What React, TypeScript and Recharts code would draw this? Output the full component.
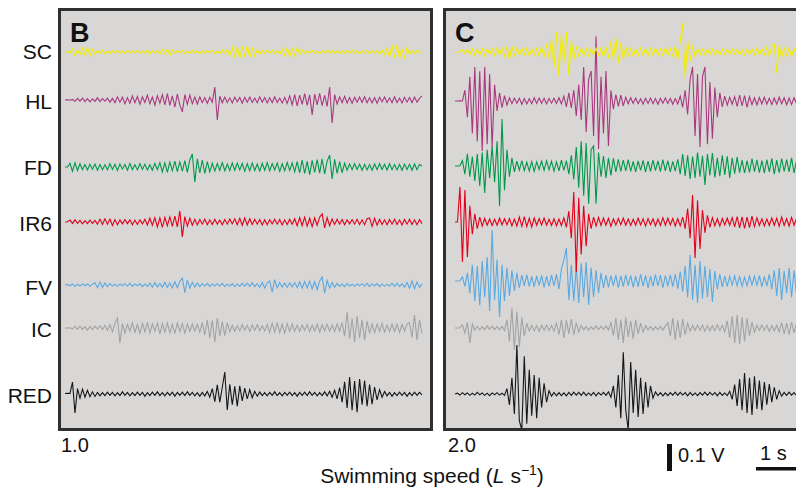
import React from 'react';
import { LineChart, Line, XAxis, YAxis } from 'recharts';

// EMG channels, top to bottom
const muscles = ['SC', 'HL', 'FD', 'IR6', 'FV', 'IC', 'RED'];
const speedLabels = ['1.0', '2.0'];
const panelLetters = ['B', 'C'];

// ---- panel B, 1.0 L/s (values in mV, one sample every 62.5 ms) ----
const scB = [
  0, 2, -4, 12, -14, 8, -10, 15, -12, 18,
  -16, 10, -8, 6, -5, 7, -6, 4, -7, 5,
  -4, 6, -5, 3, -6, 7, -4, 5, -3, 6,
  -5, 4, -6, 8, -7, 5, -4, 6, -8, 9,
  -6, 11, -14, 8, -5, 6, -4, 5, -6, 4,
  -5, 7, -4, 5, -6, 4, -5, 6, -3, 5,
  -6, 4, -7, 8, -5, 10, -14, 18, -22, 20,
  -25, 22, -18, 24, -20, 14, -16, 10, -8, 7,
  -5, 6, -4, 7, -6, 5, -8, 10, -14, 16,
  -18, 12, -15, 17, -10, 8, -6, 5, -4, 6,
  -5, 4, -6, 5, -3, 6, -5, 7, -4, 5,
  -6, 4, -5, 6, -4, 7, -5, 4, -6, 5,
  -4, 6, -7, 5, -4, 6, -8, 7, -9, 14,
  -18, 26, -22, 28, -24, 12, -26, 18, -10, 6,
  -5, 6, -4, 3,
];
const hlB = [
  0, 1, -1, 2, -5, 6, -4, 7, -6, 5,
  -7, 4, -5, 8, -6, 5, -4, 7, -8, 6,
  -10, 12, -8, 11, -14, 9, -12, 15, -10, 13,
  -16, 12, -9, 18, -14, 11, -19, 16, -12, 20,
  -18, 24, -20, 15, -26, 22, -18, -44, 20, -16,
  18, -14, 11, -15, 12, -10, 9, -12, 10, -8,
  48, -74, 14, -10, 11, -9, 8, -11, 10, -7,
  9, -12, 10, -8, 11, -9, 7, -10, 12, -8,
  9, -11, 8, -10, 12, -9, 7, -11, 10, -13,
  15, -18, 20, -22, 18, -16, 24, -20, 19, -55,
  22, -18, 25, -21, 17, -24, 48, -85, 20, -15,
  12, -10, 14, -11, 9, -12, 10, -8, 11, -9,
  12, -10, 8, -11, 9, -12, 10, -7, 11, -9,
  8, -10, 12, -9, 7, -11, 10, -8, 9, -10,
  11, -8, 6, 15,
];
const fdB = [
  0, 0, 14, -16, 15, -13, 12, -10, 9, -11,
  10, -8, 11, -12, 9, -10, 8, -11, 12, -9,
  10, -13, 11, -8, 9, -12, 13, -10, 8, -11,
  12, -9, 10, -11, 8, -12, 14, -10, 16, -18,
  15, -20, 18, -14, 22, -17, 19, -15, 24, -20,
  26, 48, -55, 30, -22, 26, -24, 20, -18, 14,
  -15, 13, -12, 16, -14, 11, -13, 15, -12, 14,
  -11, 13, -16, 12, -14, 15, -13, 11, -15, 14,
  -12, 16, -14, 13, -11, 15, -16, 12, -14, 17,
  -13, 15, -18, 20, -22, 26, -24, 21, -28, 25,
  -20, 27, -23, 30, -26, 22, 44, -44, 28, -24,
  20, -22, 14, -12, 11, -10, 12, -9, 11, -12,
  10, -11, 9, -12, 11, -10, 12, -9, 10, -11,
  12, -10, 9, -11, 10, -12, 11, -9, 10, -12,
  11, -10, 9, 4,
];
const ir6B = [
  0, 1, 7, -6, 8, -5, 6, -7, 5, -6,
  7, -5, 6, -8, 10, -9, 12, -8, 11, -13,
  9, -10, 8, -7, 9, -6, 8, -10, 7, -9,
  8, -7, 10, -11, 14, -12, 16, -18, 15, -20,
  17, -14, 19, -16, 22, -18, 41, -55, 20, -15,
  14, -12, 10, -11, 9, -8, 11, -10, 8, -9,
  10, -8, 7, -10, 9, -8, 11, -7, 12, -10,
  14, -12, 15, -11, 12, -9, 10, -8, 9, -11,
  8, -10, 9, -7, 10, -8, 9, -11, 8, -9,
  10, -8, 12, -14, 16, -13, 18, -15, 14, -17,
  15, -12, 18, 30, -22, 16, -14, 11, -9, 10,
  -8, 9, -10, 8, -7, 9, -8, 10, -9, 8,
  -10, 12, 15, -16, 14, -12, 10, -9, 8, -10,
  9, -8, 10, -9, 8, -11, 9, -8, 10, -9,
  8, -10, 9, -6,
];
const fvB = [
  0, 2, -3, 4, -5, 3, -4, 5, -3, 4,
  -5, 3, 8, -10, 11, -9, 7, -6, 5, -4,
  3, -5, 4, -3, 5, -4, 6, -5, 4, -3,
  5, -6, 4, -5, 7, -8, 9, -7, 6, -8,
  10, -9, 8, -11, 12, -10, 14, 26, -28, 18,
  -12, 10, -8, 7, -6, 5, -4, 6, -5, 4,
  -3, 5, -4, 6, -5, 3, -4, 5, -6, 4,
  -5, 6, -4, 7, -5, 8, -6, 5, -9, 10,
  -12, 8, 14, -26, 20, -10, 9, -8, 7, -9,
  8, -7, 9, -10, 11, -12, 13, -11, 14, -15,
  12, -16, 14, 30, -30, 16, -12, 9, -8, 6,
  -5, 4, -6, 5, -4, 3, -5, 4, -3, 5,
  -4, 6, -5, 4, -3, 5, -6, 4, -5, 3,
  -4, 6, -5, 7, -6, 5, -8, 10, -12, 15,
  -14, 11, -9, 4,
];
const icB = [
  0, 0, 1, -3, 6, -5, 7, -6, 5, -8,
  6, -5, 7, -4, 8, -6, 10, -9, 12, -14,
  18, 37, -55, 16, -18, 14, -12, 19, -16, 13,
  -20, 17, -14, 21, -18, 15, -12, 18, -22, 16,
  -15, 19, -17, 14, -20, 18, -13, 16, -19, 15,
  -12, 14, -11, 13, -15, 20, -26, 30, -37, 28,
  -52, 37, -30, 24, -28, 20, -14, 10, -12, 9,
  -11, 12, -8, 10, -13, 11, -9, 12, -10, 8,
  -11, 13, -16, 18, -15, 20, -17, 14, -19, 16,
  -13, 15, -12, 10, -13, 11, -9, 12, -14, 10,
  -11, 13, -15, 12, -10, 14, -12, 11, -13, 15,
  -12, 20, -30, 59, -40, 35, -52, 44, -38, 30,
  -45, 26, -20, 15, -17, 14, -12, 16, -15, 11,
  -13, 15, -12, 14, -16, 13, -11, 14, 20, -35,
  48, -44, 30, -20,
];
const redB = [
  2, 3, 2, 44, -70, 20, -15, 18, -12, 14,
  -10, 8, -9, 6, -7, 5, -6, 7, -5, 6,
  -7, 5, -6, 8, -5, 6, -7, 5, -6, 7,
  -5, 6, -8, 5, -6, 7, -5, 8, -6, 5,
  -7, 6, -5, 7, -8, 6, -5, 7, -6, 8,
  -5, 6, -7, 5, -8, 6, -7, 9, -12, 20,
  -28, 34, -30, 25, 81, -59, 36, -40, 28, -45,
  30, -26, 22, -18, 16, -14, 10, -8, 7, -6,
  5, -7, 6, -5, 8, -6, 5, -7, 6, -5,
  7, -6, 5, -8, 6, -5, 7, -6, 8, -5,
  6, -7, 5, -6, 8, -7, 10, -12, 14, -18,
  24, -30, 45, -52, 63, -60, 48, -67, 55, -40,
  50, -45, 35, -38, 26, -22, 16, -12, 9, -7,
  6, -8, 5, -6, 7, -5, 6, -8, 5, -6,
  7, -5, 6, -3,
];

// ---- panel C, 2.0 L/s ----
const scC = [
  0, 0, 1, 8, -6, 10, -9, 12, -14, 11,
  -10, 13, -15, 12, -9, 11, -13, 16, -12, 14,
  -16, 22, -28, 24, -18, 14, -12, 15, -11, 13,
  -15, 12, -10, 14, -16, 20, -18, 30, -26, 50,
  -60, 74, -92, 68, -40, 74, -85, 45, -30, 22,
  -18, 16, -14, 12, -15, 13, -11, 14, -12, 16,
  -18, 20, -24, 40, -30, 55, -41, 35, -28, 20,
  -15, 13, -16, 12, -14, 15, -11, 13, -16, 14,
  -12, 15, -13, 11, -14, 16, -12, 14, -18, 22,
  -30, 40, 107, -96, 45, -35, 24, -18, 14, -12,
  10, -11, 12, -9, 11, -10, 8, -12, 10, -9,
  11, -10, 12, -8, 10, -11, 9, -12, 10, -9,
  11, -10, 13, -12, 14, -11, 18, -15, 22, 30,
  -78, 26, -20, 15, -12, 14, -16, 13, -11, 12,
];
const hlC = [
  0, 0, 1, 0, 40, -60, 90, -120, 126, -150,
  110, -185, 126, -160, 100, -170, 60, -37, 30, -25,
  20, -15, 12, -10, 11, -8, 10, -12, 9, -11,
  8, -10, 12, -9, 11, -8, 10, -11, 9, -8,
  10, -9, 12, -11, 18, -22, 30, -26, 40, -55,
  60, -70, 126, -115, 80, 111, -130, 240, -178, 90,
  -120, 111, -167, 40, -30, 24, -20, 22, -18, 14,
  -10, 12, -9, 11, -10, 8, -12, 10, -9, 11,
  -10, 9, -12, 10, -8, 11, -9, 10, -12, 9,
  -11, 18, -24, 40, -50, 80, 126, -130, 100, -170,
  90, 126, -160, 70, -140, 50, -60, 30, -22, 18,
  -15, 14, -12, 16, -20, 22, -18, 20, -24, 16,
  -14, 12, -15, 13, -11, 14, -12, 10, -13, 11,
  -12, 14, -10, 12, -14, 11, -13, 12, -10, 11,
];
const fdC = [
  0, 0, 1, 20, -30, 45, -40, 35, -55, 44,
  -74, 50, -100, 60, -45, 74, -60, 92, -148, 174,
  -90, 60, -40, 30, -22, 18, -15, 20, -17, 14,
  -18, 16, -20, 15, -13, 18, -16, 20, -14, 17,
  -19, 15, -18, 22, -16, 20, -30, 40, -50, 70,
  -80, 92, -110, 85, -140, 60, 74, -140, 50, -40,
  37, -44, 30, -35, 28, -22, 25, -20, 22, -18,
  24, -20, 17, -22, 19, -16, 21, -23, 18, -20,
  22, -17, 19, -21, 24, -18, 20, -22, 17, -19,
  25, -30, 44, -37, 40, -48, 35, -44, 50, -40,
  38, -70, 44, -35, 48, -42, 30, -38, 40, -33,
  36, -44, 30, -28, 33, -25, 22, -26, 20, -24,
  27, -21, 23, -25, 20, -26, 24, -22, 28, -30,
  22, -25, 27, -20, 24, -22, 30, -26, 21, -24,
];
const ir6C = [
  0, 0, 130, -148, 118, -130, 60, -45, 30, -25,
  18, -15, 14, -12, 11, -13, 10, -12, 14, -11,
  12, -10, 13, -14, 11, -15, 18, -16, 20, -17,
  14, -18, 15, -12, 13, -11, 14, -12, 10, -13,
  12, -14, 11, -13, 15, -20, 40, -60, 111, -185,
  90, -120, 60, -90, 30, -25, 18, -15, 17, -13,
  15, -12, 14, -16, 12, -11, 13, -10, 14, -12,
  11, -13, 10, -12, 14, -11, 12, -15, 13, -10,
  12, -14, 11, -13, 16, -12, 14, -11, 13, -15,
  12, -14, 18, -25, 50, -60, 100, -133, 80, -100,
  44, -40, 25, -20, 16, -14, 12, -15, 13, -11,
  14, -12, 16, -18, 20, -22, 19, -24, 18, -21,
  22, -17, 15, -13, 12, -14, 11, -13, 15, -12,
  14, -16, 18, -13, 12, -15, 17, -12, 14, -13,
];
const fvC = [
  0, 0, 1, 15, -20, 30, -45, 60, -74, 55,
  -90, 74, -60, 89, -111, 189, -70, 80, -133, 60,
  -74, 50, -55, 40, -37, 30, -26, 22, -18, 24,
  -20, 17, -22, 19, -16, 21, -24, 18, -20, 22,
  -17, 25, -30, 45, 78, 122, -70, 60, -74, 55,
  -81, 66, -60, 70, -89, 50, -60, 40, -45, 30,
  -26, 22, -24, 20, -18, 22, -25, 19, -21, 23,
  -17, 20, -24, 18, -22, 25, -19, 21, -26, 18,
  -20, 24, -18, 22, -25, 20, -19, 23, -21, 26,
  -28, 35, -40, 55, -60, 96, -70, 60, -81, 74,
  -65, 55, -60, 44, -78, 37, -30, 26, -22, 18,
  -20, 17, -15, 19, -18, 16, -20, 14, -17, 19,
  -15, 18, -16, 20, -22, 17, -19, 25, -30, 40,
  -55, 48, -70, 37, -44, 48, -60, 40, -50, 35,
];
const icC = [
  0, 0, 1, 12, -18, 20, -55, 15, -8, 6,
  -7, 5, -6, 8, -5, 7, -6, 5, -7, 6,
  -10, 30, -50, 74, -81, 60, -70, 40, -30, 18,
  -12, 10, -11, 9, -12, 10, -8, 11, -9, 10,
  -12, 18, -25, 30, -37, 28, -22, 33, -26, 20,
  -15, 9, -7, 6, -8, 5, -7, 8, -6, 7,
  -5, 8, -7, 20, -28, 37, -44, 30, -55, 40,
  -33, 26, -40, 30, -22, 18, -15, 9, -7, 6,
  -8, 5, -7, 6, -8, 7, 20, -30, 37, -44,
  28, -37, 33, -25, 18, -12, 10, -9, 11, -8,
  10, -12, 9, -11, 8, -10, 12, -9, 10, -14,
  26, -37, 44, -55, 48, -59, 40, -50, 37, -30,
  22, -15, 10, -9, 11, -8, 10, -12, 9, -11,
  10, -14, 20, -22, 18, -25, 22, -18, 20, -16,
];
const redC = [
  0, 3, -4, 5, -3, 4, -5, 3, -4, 6,
  -3, 4, -5, 3, -6, 4, -3, 5, -4, 3,
  -5, 20, -40, 60, -74, 181, -100, -133, 140, -110,
  90, -80, 70, -90, 60, -50, 40, -30, 12, -8,
  6, -7, 5, -6, 4, -7, 6, -5, 7, -4,
  6, -5, 7, -6, 4, -5, 6, -7, 5, -4,
  6, -5, 8, -12, 30, -50, 70, -90, 155, -60,
  -133, 118, -70, 90, -85, 60, -74, 44, -50, 30,
  -15, 8, -6, 5, -7, 4, -6, 5, -4, 7,
  -5, 6, -4, 5, -7, 6, -5, 4, -6, 5,
  -4, 7, -5, 6, -4, 5, -7, 6, -5, 4,
  -6, 10, -20, 35, -44, 55, -60, 78, -70, 60,
  -78, 66, -55, 50, -60, 44, -40, 37, -30, 25,
  -20, 12, -8, 6, -5, 7, -4, 5, -6, 4,
];

const seriesB: Record<string, number[]> = { SC: scB, HL: hlB, FD: fdB, IR6: ir6B, FV: fvB, IC: icB, RED: redB };
const seriesC: Record<string, number[]> = { SC: scC, HL: hlC, FD: fdC, IR6: ir6C, FV: fvC, IC: icC, RED: redC };

const buildRows = (series: Record<string, number[]>) => {
  const n = Math.max(...Object.values(series).map((a) => a.length));
  return Array.from({ length: n }, (_, i) => {
    const row: Record<string, number> = { i };
    for (const k of Object.keys(series)) row[k] = series[k][i];
    return row;
  });
};

// ---- look ----
const colors: Record<string, string> = {
  SC: '#f2ec00',
  HL: '#a8397f',
  FD: '#00994a',
  IR6: '#e3001b',
  FV: '#5aa9e0',
  IC: '#a3a3a3',
  RED: '#161616',
};
const baseB: Record<string, number> = { SC: 52, HL: 100, FD: 167, IR6: 222, FV: 285, IC: 328, RED: 394 };
const baseC: Record<string, number> = { SC: 52, HL: 101, FD: 166, IR6: 222, FV: 281, IC: 328, RED: 394 };
const labelY: Record<string, number> = { SC: 59, HL: 109, FD: 175, IR6: 231, FV: 295, IC: 337, RED: 403 };
const PX_PER_MV = 0.27; // 0.1 V scale bar is 27 px
const PLOT_TOP = 11;
const PLOT_BOTTOM = 428;
const FONT = '"Liberation Sans", Arial, Helvetica, sans-serif';

interface PanelProps {
  rows: Record<string, number>[];
  left: number;
  width: number;
  padL: number;
  padR: number;
  base: Record<string, number>;
}

const TracePanel: React.FC<PanelProps> = ({ rows, left, width, padL, padR, base }) => {
  const drawOrder = [...muscles].reverse();
  return (
    <div style={{ position: 'absolute', left, top: PLOT_TOP }}>
      <LineChart
        width={width}
        height={PLOT_BOTTOM - PLOT_TOP}
        data={rows}
        margin={{ top: 0, right: padR, bottom: 0, left: padL }}
      >
        <XAxis dataKey="i" type="number" domain={[0, rows.length - 1]} hide />
        {muscles.map((m) => (
          <YAxis
            key={m}
            yAxisId={m}
            type="number"
            hide
            allowDataOverflow
            domain={[-(PLOT_BOTTOM - base[m]) / PX_PER_MV, (base[m] - PLOT_TOP) / PX_PER_MV]}
          />
        ))}
        {drawOrder.map((m) => (
          <Line
            key={m}
            yAxisId={m}
            dataKey={m}
            type="linear"
            stroke={colors[m]}
            strokeWidth={1.1}
            dot={false}
            isAnimationActive={false}
          />
        ))}
      </LineChart>
    </div>
  );
};

const boxStyle: React.CSSProperties = {
  position: 'absolute',
  top: 8,
  height: 423,
  boxSizing: 'border-box',
  border: '3px solid #2f2f2f',
  background: '#d9d7d6',
};

export default function App() {
  const rowsB = buildRows(seriesB);
  const rowsC = buildRows(seriesC);
  return (
    <div
      style={{
        position: 'absolute',
        left: 0,
        top: 0,
        width: 796,
        height: 489,
        overflow: 'hidden',
        background: '#fff',
        fontFamily: FONT,
      }}
    >
      <div style={{ ...boxStyle, left: 58, width: 375 }} />
      <div style={{ ...boxStyle, left: 443, width: 420 }} />
      <TracePanel rows={rowsB} left={61} width={369} padL={4} padR={8} base={baseB} />
      <TracePanel rows={rowsC} left={446} width={400} padL={9} padR={47} base={baseC} />
      <svg width={796} height={489} style={{ position: 'absolute', left: 0, top: 0 }} fontFamily={FONT}>
        {muscles.map((m) => (
          <text key={m} x={52} y={labelY[m]} textAnchor="end" fontSize={21} fill="#111">
            {m}
          </text>
        ))}
        <text x={70} y={42} fontSize={27} fontWeight="bold" fill="#111">{panelLetters[0]}</text>
        <text x={455} y={42} fontSize={27} fontWeight="bold" fill="#111">{panelLetters[1]}</text>
        <text x={61} y={452} fontSize={20} fill="#111">{speedLabels[0]}</text>
        <text x={448} y={452} fontSize={20} fill="#111">{speedLabels[1]}</text>
        <text x={432} y={483} fontSize={21} textAnchor="middle" fill="#111">
          Swimming speed (<tspan fontStyle="italic">L</tspan> s
          <tspan dy={-8} fontSize={14}>−1</tspan>
          <tspan dy={8}>)</tspan>
        </text>
        {/* scale bars */}
        <rect x={667} y={444} width={5} height={100 * PX_PER_MV} fill="#111" />
        <text x={678} y={462} fontSize={20} fill="#111">0.1 V</text>
        <text x={760} y={460} fontSize={20} fill="#111">1 s</text>
        <rect x={756} y={467} width={40} height={3.5} fill="#111" />
      </svg>
    </div>
  );
}
